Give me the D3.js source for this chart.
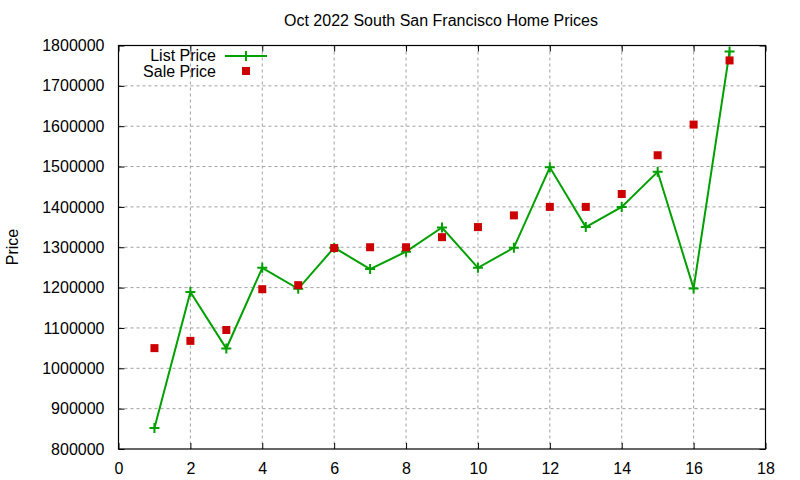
<!DOCTYPE html>
<html>
<head>
<meta charset="utf-8">
<script src="https://cdn.jsdelivr.net/npm/d3@7"></script>
<style>
  body { margin: 0; background: #fff; }
  svg text { font-family: "Liberation Sans", Arial, sans-serif; fill: #000; }
  .grid line { stroke: #a0a0a0; stroke-dasharray: 3,3; stroke-width: 1; }
</style>
</head>
<body>
<svg id="chart" width="800" height="480"></svg>
<script>
const title = 'Oct 2022 South San Francisco Home Prices';
const xs = [1,2,3,4,5,6,7,8,9,10,11,12,13,14,15,16,17];
const listPrice = [852000,1189000,1049000,1249000,1197000,1299000,1246000,1289000,1349000,1249000,1299000,1498000,1350000,1400000,1487000,1198000,1785000];
const salePrice = [1050000,1068000,1095000,1196000,1206000,1298000,1300000,1300000,1325000,1350000,1379000,1400000,1400000,1432000,1528000,1604000,1763000];
const xTicks = [0,2,4,6,8,10,12,14,16,18];
const yTicks = [800000,900000,1000000,1100000,1200000,1300000,1400000,1500000,1600000,1700000,1800000];

const svg = d3.select('#chart');
const m = {left: 118.5, right: 765.5, top: 45.5, bottom: 449};
const x = d3.scaleLinear().domain([0, 18]).range([m.left, m.right]);
const y = d3.scaleLinear().domain([800000, 1800000]).range([m.bottom, m.top]);

// grid
const grid = svg.append('g').attr('class', 'grid');
grid.selectAll('.gx').data(xTicks.slice(1, -1)).enter().append('line')
  .attr('x1', d => x(d)).attr('x2', d => x(d)).attr('y1', m.top).attr('y2', m.bottom);
grid.selectAll('.gy').data(yTicks.slice(1, -1)).enter().append('line')
  .attr('y1', d => y(d)).attr('y2', d => y(d)).attr('x1', m.left).attr('x2', m.right);

// axes (ticks inward, mirrored)
const fmt = d => String(d);
svg.append('g').attr('transform', `translate(0,${m.bottom})`)
  .call(d3.axisBottom(x).tickValues(xTicks).tickSize(-6).tickPadding(14).tickFormat(fmt));
svg.append('g').attr('transform', `translate(0,${m.top})`)
  .call(d3.axisTop(x).tickValues(xTicks).tickSize(-6).tickFormat(''));
svg.append('g').attr('transform', `translate(${m.left},0)`)
  .call(d3.axisLeft(y).tickValues(yTicks).tickSize(-6).tickPadding(14).tickFormat(fmt));
svg.append('g').attr('transform', `translate(${m.right},0)`)
  .call(d3.axisRight(y).tickValues(yTicks).tickSize(-6).tickFormat(''));
svg.selectAll('.domain').remove();
svg.selectAll('.tick line').attr('stroke', '#000');
svg.selectAll('.tick text').style('font-size', '16px').style('font-family', '"Liberation Sans", Arial, sans-serif');
svg.append('rect').attr('x', m.left).attr('y', m.top)
  .attr('width', m.right - m.left).attr('height', m.bottom - m.top)
  .attr('fill', 'none').attr('stroke', '#000').attr('stroke-width', 1.2);

// list price line
const green = '#00a000';
const line = d3.line().x((d, i) => x(xs[i])).y(d => y(d));
svg.append('path').datum(listPrice).attr('d', line)
  .attr('fill', 'none').attr('stroke', green).attr('stroke-width', 2);
const plus = (g, cx, cy) => {
  g.append('path').attr('d', `M${cx-5},${cy}H${cx+5}M${cx},${cy-5}V${cy+5}`)
    .attr('stroke', green).attr('stroke-width', 2);
};
const pts = svg.append('g');
listPrice.forEach((v, i) => plus(pts, x(xs[i]), y(v)));

// sale price squares
svg.append('g').selectAll('rect').data(salePrice).enter().append('rect')
  .attr('x', (d, i) => x(xs[i]) - 4).attr('y', d => y(d) - 4)
  .attr('width', 8).attr('height', 8).attr('fill', '#cc0000');

// title and labels
svg.append('text').attr('x', 441).attr('y', 26).attr('text-anchor', 'middle')
  .style('font-size', '16px').text(title);
svg.append('text').attr('transform', 'translate(18,247) rotate(-90)')
  .attr('text-anchor', 'middle').style('font-size', '16px').text('Price');

// legend
const lg = svg.append('g');
lg.append('text').attr('x', 216).attr('y', 61).attr('text-anchor', 'end')
  .style('font-size', '16px').text('List Price');
lg.append('line').attr('x1', 225).attr('x2', 267).attr('y1', 56).attr('y2', 56)
  .attr('stroke', green).attr('stroke-width', 2);
plus(lg, 246, 56);
lg.append('text').attr('x', 216).attr('y', 77).attr('text-anchor', 'end')
  .style('font-size', '16px').text('Sale Price');
lg.append('rect').attr('x', 242).attr('y', 67).attr('width', 8).attr('height', 8).attr('fill', '#cc0000');
</script>
</body>
</html>
